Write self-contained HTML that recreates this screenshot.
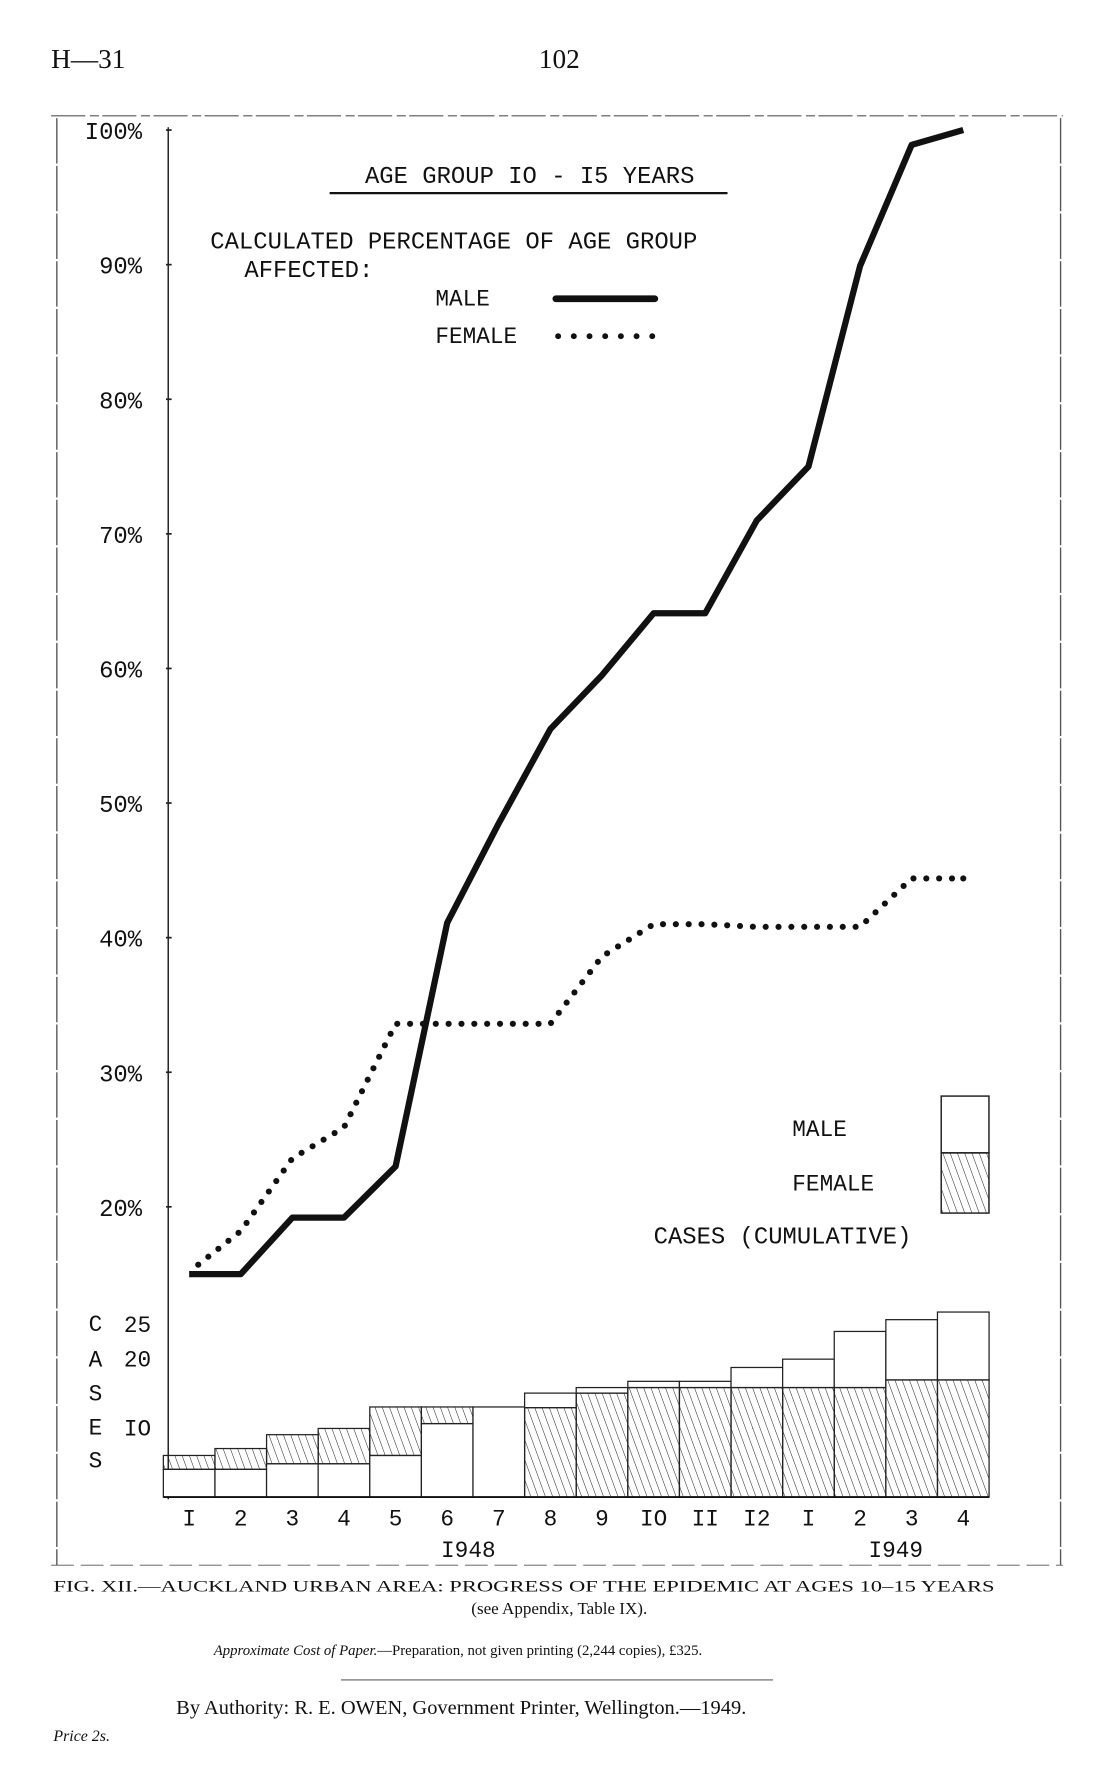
<!DOCTYPE html>
<html><head><meta charset="utf-8"><style>
html,body{margin:0;padding:0;background:#fff;}
svg{display:block;}
.tw{font-family:"Liberation Mono",monospace;fill:#111;}
.sr{font-family:"Liberation Serif",serif;fill:#111;}
</style></head><body>
<svg id="chart" width="1114" height="1781" viewBox="0 0 980 1568" preserveAspectRatio="none" xmlns="http://www.w3.org/2000/svg">
<defs>
<pattern id="hatch" patternUnits="userSpaceOnUse" width="6" height="6" patternTransform="rotate(-20)">
<line x1="0" y1="0" x2="0" y2="6" stroke="#222" stroke-width="0.9"/>
</pattern>
</defs>
<text class="sr" x="45" y="60" font-size="24">H—31</text>
<text class="sr" x="492" y="60" font-size="24" text-anchor="middle">102</text>
<g stroke="#555" fill="none">
<line x1="45" y1="102" x2="935" y2="102" stroke-dasharray="30 4 8 3" stroke-width="1"/>
<line x1="50" y1="104" x2="50" y2="1378" stroke-width="1.2" stroke-dasharray="40 2"/>
<line x1="933" y1="104" x2="933" y2="1378" stroke-width="1.2" stroke-dasharray="40 2"/>
<line x1="45" y1="1378" x2="935" y2="1378" stroke-width="0.8" stroke-dasharray="20 6"/>
</g>
<line x1="148" y1="112" x2="148" y2="1320" stroke="#222" stroke-width="1.3"/>
<g id="yticks"></g>
<text class="tw" x="466" y="161" font-size="21" text-anchor="middle">AGE GROUP IO - I5 YEARS</text>
<line x1="290" y1="170" x2="640" y2="170" stroke="#111" stroke-width="2"/>
<text class="tw" x="185" y="219" font-size="21">CALCULATED PERCENTAGE OF AGE GROUP</text>
<text class="tw" x="215" y="244" font-size="21">AFFECTED:</text>
<g>
<text class="tw" x="383" y="269" font-size="20">MALE</text>
<line x1="489" y1="263" x2="576" y2="263" stroke="#111" stroke-width="6" stroke-linecap="round"/>
</g>
<g id="legfem">
<text class="tw" x="383" y="302" font-size="20">FEMALE</text>
</g>
<g id="lines"></g>
<g>
<rect x="828" y="965" width="42" height="50" fill="#fff" stroke="#222" stroke-width="1.3"/>
<rect x="828" y="1015" width="42" height="53" fill="url(#hatch)" stroke="#222" stroke-width="1.3"/>
<text class="tw" x="697" y="1000" font-size="20">MALE</text>
<text class="tw" x="697" y="1048" font-size="20">FEMALE</text>
<text class="tw" x="575" y="1095" font-size="21">CASES (CUMULATIVE)</text>
</g>
<g class="tw" font-size="20">
<text class="tw" x="78" y="1172">C</text><text class="tw" x="78" y="1203">A</text><text class="tw" x="78" y="1233">S</text><text class="tw" x="78" y="1263">E</text><text class="tw" x="78" y="1292">S</text>
</g>
<g id="bars"></g>
<g id="xlabels"></g>
<text class="tw" x="412" y="1371" font-size="20" text-anchor="middle">I948</text>
<text class="tw" x="788" y="1371" font-size="20" text-anchor="middle">I949</text>
<text class="sr" x="47" y="1401" font-size="14" textLength="828" lengthAdjust="spacingAndGlyphs">FIG. XII.—AUCKLAND URBAN AREA: PROGRESS OF THE EPIDEMIC AT AGES 10–15 YEARS</text>
<text class="sr" x="492" y="1421" font-size="15" text-anchor="middle">(see Appendix, Table IX).</text>
<text class="sr" x="188" y="1457" font-size="13" font-style="italic">Approximate Cost of Paper.<tspan font-style="normal">—Preparation, not given    printing (2,244 copies), £325.</tspan></text>
<line x1="300" y1="1479" x2="680" y2="1479" stroke="#333" stroke-width="0.8"/>
<text class="sr" x="155" y="1509" font-size="18">By Authority:  R. E. OWEN, Government Printer, Wellington.—1949.</text>
<text class="sr" x="47" y="1533" font-size="14" font-style="italic">Price 2s.</text>
</svg>
<script>
const yTickValues=[100,90,80,70,60,50,40,30,20];
const yTickLabels=["I00%","90%","80%","70%","60%","50%","40%","30%","20%"];
const monthLabels=["I","2","3","4","5","6","7","8","9","IO","II","I2","I","2","3","4"];
const malePct=[15.0,15.0,19.2,19.2,23.0,41.1,48.5,55.5,59.5,64.1,64.1,71.0,75.0,89.9,98.9,100];
const femalePct=[15.7,18.2,23.6,25.9,33.6,33.6,33.6,33.6,38.6,41.0,41.0,40.8,40.8,40.8,44.4,44.4];
const maleCases=[4,4,4.8,4.8,6,10.6,13,2.1,0.8,0.9,0.9,2.9,4.1,8.1,8.7,9.8];
const femaleCases=[2,3,4.2,5.1,7,2.4,0,12.9,15,15.8,15.8,15.8,15.8,15.8,16.9,16.9];
const femaleOnTop=[1,1,1,1,1,1,1,0,0,0,0,0,0,0,0,0];
const caseTicks=[25,20,10];
const caseTickLabels=["25","20","IO"];

const NS="http://www.w3.org/2000/svg";
const X0=143.7, BW=45.4;
const xc=i=>X0+BW*i+BW/2;
const yP=v=>114.5+(100-v)*11.85;
const BASE=1318, PPC=6.1;
const yC=v=>BASE-v*PPC;
function mk(tag,attrs,parent){const e=document.createElementNS(NS,tag);for(const k in attrs)e.setAttribute(k,attrs[k]);parent.appendChild(e);return e;}

const yt=document.getElementById('yticks');
yTickValues.forEach((v,i)=>{
  const t=mk('text',{x:125,y:yP(v)+8,'font-size':21,'text-anchor':'end','class':'tw'},yt);
  t.textContent=yTickLabels[i];
  
  
  mk('line',{x1:146,x2:151,y1:yP(v),y2:yP(v),stroke:'#222','stroke-width':1.5},yt);
});
caseTicks.forEach((v,i)=>{
  const t=mk('text',{x:133,y:yC(v)+7,'font-size':20,'text-anchor':'end','class':'tw'},yt);
  t.textContent=caseTickLabels[i];
  
  
});

const lg=document.getElementById('lines');
const mp=malePct.map((v,i)=>xc(i)+','+yP(v)).join(' ');
const ml=mk('polyline',{points:mp,fill:'none',stroke:'#111','stroke-width':5.5,'stroke-linejoin':'round'},lg);


const fg=mk('g',{},lg);


const pts=femalePct.map((v,i)=>[xc(i)+(i===0?8:0),yP(v)]);
let carry=0;const step=11.3;
for(let i=0;i<pts.length-1;i++){
  const [x1,y1]=pts[i],[x2,y2]=pts[i+1];const L=Math.hypot(x2-x1,y2-y1);
  let d=carry;
  while(d<=L){const t=d/L;mk('circle',{cx:x1+(x2-x1)*t,cy:y1+(y2-y1)*t,r:2.7,fill:'#111'},fg);d+=step;}
  carry=d-L;
}
mk('circle',{cx:pts[pts.length-1][0],cy:pts[pts.length-1][1],r:2.7,fill:'#111'},fg);
const lf=document.getElementById('legfem');
for(let k=0;k<7;k++)mk('circle',{cx:491+k*13.8,cy:296,r:2.6,fill:'#111'},lf);

const bg=document.getElementById('bars');
maleCases.forEach((m,i)=>{
  const f=femaleCases[i];const x=X0+BW*i;
  let mb,fb;
  if(femaleOnTop[i]){mb=0;fb=m;}else{fb=0;mb=f;}
  const g=mk('g',{},bg);
  
  
  if(m>0){const r=mk('rect',{x:x,y:yC(mb+m),width:BW,height:m*PPC,fill:'#fff',stroke:'#222','stroke-width':1.1},g);
    }
  if(f>0){const r=mk('rect',{x:x,y:yC(fb+f),width:BW,height:f*PPC,fill:'url(#hatch)',stroke:'#222','stroke-width':1.1},g);
    }
});
mk('line',{x1:X0,x2:X0+BW*16,y1:BASE,y2:BASE,stroke:'#111','stroke-width':1.6},bg);
const xl=document.getElementById('xlabels');
monthLabels.forEach((s,i)=>{
  const t=mk('text',{x:xc(i),y:1343,'font-size':20,'text-anchor':'middle','class':'tw'},xl);
  t.textContent=s;
  
  
});
</script>
</body></html>
